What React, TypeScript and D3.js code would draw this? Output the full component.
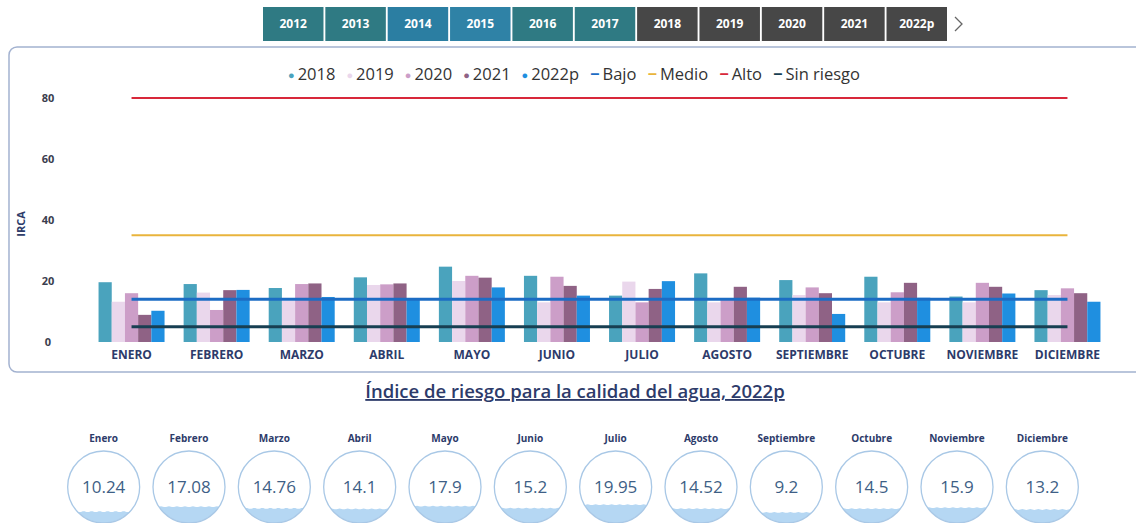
import React from 'react'
import * as d3 from 'd3'

const months = ['ENERO', 'FEBRERO', 'MARZO', 'ABRIL', 'MAYO', 'JUNIO', 'JULIO', 'AGOSTO', 'SEPTIEMBRE', 'OCTUBRE', 'NOVIEMBRE', 'DICIEMBRE']
const monthNames = ['Enero', 'Febrero', 'Marzo', 'Abril', 'Mayo', 'Junio', 'Julio', 'Agosto', 'Septiembre', 'Octubre', 'Noviembre', 'Diciembre']
const years = ['2018', '2019', '2020', '2021', '2022p']
const tabs = ['2012', '2013', '2014', '2015', '2016', '2017', '2018', '2019', '2020', '2021', '2022p']

const v2018 = [19.6, 19.0, 17.7, 21.2, 24.7, 21.7, 15.2, 22.5, 20.3, 21.4, 14.9, 17.0]
const v2019 = [13.2, 16.2, 13.5, 18.7, 20.0, 13.0, 19.8, 13.0, 15.4, 13.0, 13.0, 15.4]
const v2020 = [16.0, 10.5, 19.0, 18.9, 21.7, 21.4, 13.0, 14.3, 17.9, 16.3, 19.4, 17.6]
const v2021 = [8.9, 17.0, 19.2, 19.2, 21.1, 18.4, 17.4, 18.1, 16.0, 19.4, 18.1, 16.0]
const v2022 = [10.24, 17.08, 14.76, 14.1, 17.9, 15.2, 19.95, 14.52, 9.2, 14.5, 15.9, 13.2]

const bajo = [14, 14, 14, 14, 14, 14, 14, 14, 14, 14, 14, 14]
const medio = [35, 35, 35, 35, 35, 35, 35, 35, 35, 35, 35, 35]
const alto = [80, 80, 80, 80, 80, 80, 80, 80, 80, 80, 80, 80]
const sinRiesgo = [5, 5, 5, 5, 5, 5, 5, 5, 5, 5, 5, 5]

const yTicks = [0, 20, 40, 60, 80]

const barSeries = [v2018, v2019, v2020, v2021, v2022]
const barColors = ['#4aa3bd', '#ead7ec', '#cc9ec8', '#8f6285', '#1f8fe0']
const lineSeries = [
    { name: 'Bajo', values: bajo, color: '#1c6cc4' },
    { name: 'Medio', values: medio, color: '#e9b43c' },
    { name: 'Alto', values: alto, color: '#d8283a' },
    { name: 'Sin riesgo', values: sinRiesgo, color: '#173f52' },
]
const tabColors = ['#2f7a83', '#2f7a83', '#2b7ea2', '#2f82a6', '#2f7a83', '#2f7a83', '#474747', '#474747', '#474747', '#474747', '#474747']

const navy = '#2d3b6a'
const font = '"Open Sans", "Noto Sans", sans-serif'

export default function App() {
    const width = 1136
    const height = 523

    const x0 = d3.scaleBand().domain(months).range([89, 1110]).padding(0)
    const groupW = 66
    const x1 = d3.scaleBand().domain(years).range([0, groupW]).padding(0)
    const y = d3.scaleLinear().domain([0, 80]).range([342, 98])

    const line = d3.line<number>()
        .x((d, i) => (x0(months[i]) as number) + x0.bandwidth() / 2)
        .y(d => y(d))

    const tabX = d3.scaleBand().domain(tabs).range([263, 947]).paddingInner(0.03)

    const gx = d3.scaleBand().domain(monthNames).range([61, 1085]).padding(0)
    const r = 36
    const cy = 487

    return (
        <svg width={width} height={height} style={{ position: 'absolute', left: 0, top: 0, background: '#fff' }} fontFamily={font}>
            {/* year tabs */}
            {tabs.map((t, i) => (
                <g key={t}>
                    <rect x={tabX(t)} y={7} width={tabX.bandwidth()} height={34} fill={tabColors[i]} />
                    <text x={(tabX(t) as number) + tabX.bandwidth() / 2} y={28} textAnchor="middle" fill="#fff" fontSize={12} fontWeight={700}>{t}</text>
                </g>
            ))}
            <path d="M955,17 L962,24 L955,31" fill="none" stroke="#666" strokeWidth={1.3} />

            {/* chart frame */}
            <rect x={9} y={47} width={1140} height={325} rx={8} fill="none" stroke="#a3b2d0" strokeWidth={1.5} />

            {/* legend */}
            <text x={574} y={80} textAnchor="middle" fontSize={16.5} fill="#333">
                {years.map((yr, i) => (
                    <tspan key={yr}>
                        <tspan fill={barColors[i]} fontSize={11} dx={i === 0 ? 0 : 11} dy={-1}>●</tspan>
                        <tspan dx={3} dy={1}>{yr}</tspan>
                    </tspan>
                ))}
                {lineSeries.map((s, i) => (
                    <tspan key={s.name}>
                        <tspan fill={s.color} fontWeight={700} dx={11}>−</tspan>
                        <tspan dx={3}>{s.name}</tspan>
                    </tspan>
                ))}
            </text>

            {/* y axis */}
            {yTicks.map(t => (
                <text key={t} x={48} y={y(t) + 4} textAnchor="middle" fontSize={11} fontWeight={700} fill="#3a3d4e">{t}</text>
            ))}
            <text transform="translate(25,224) rotate(-90)" textAnchor="middle" fontSize={11} fontWeight={700} fill={navy}>IRCA</text>

            {/* bars */}
            {months.map((m, i) => (
                <g key={m} transform={`translate(${(x0(m) as number) + (x0.bandwidth() - groupW) / 2},0)`}>
                    {barSeries.map((s, j) => (
                        <rect key={j} x={x1(years[j])} y={y(s[i])} width={x1.bandwidth()} height={y(0) - y(s[i])} fill={barColors[j]} />
                    ))}
                </g>
            ))}

            {/* threshold lines */}
            {lineSeries.map(s => (
                <path key={s.name} d={line(s.values) as string} fill="none" stroke={s.color} strokeWidth={s.name === 'Bajo' || s.name === 'Sin riesgo' ? 3 : 2} />
            ))}

            {/* x labels */}
            {months.map(m => (
                <text key={m} x={(x0(m) as number) + x0.bandwidth() / 2} y={359} textAnchor="middle" fontSize={12} fontWeight={700} fill={navy}>{m}</text>
            ))}

            {/* title */}
            <text x={575} y={398} textAnchor="middle" fontSize={18.5} fontWeight={600} fill={navy} textDecoration="underline">Índice de riesgo para la calidad del agua, 2022p</text>

            {/* gauges */}
            <defs>
                {monthNames.map((m, i) => (
                    <clipPath key={m} id={`clip${i}`}>
                        <circle cx={(gx(m) as number) + gx.bandwidth() / 2} cy={cy} r={r} />
                    </clipPath>
                ))}
            </defs>
            {monthNames.map((m, i) => {
                const cx = (gx(m) as number) + gx.bandwidth() / 2
                const level = cy + r - (v2022[i] / 100) * 2 * r - 4
                const wave = d3.range(0, 2 * r + 1, 4).map((dx, k) => [cx - r + dx, level + (k % 2 ? 1.2 : -1.2)] as [number, number])
                const waveD = d3.line().curve(d3.curveBasis)(wave) + ` L${cx + r},${cy + r + 2} L${cx - r},${cy + r + 2} Z`
                return (
                    <g key={m}>
                        <text x={cx} y={442} textAnchor="middle" fontSize={10} fontWeight={700} fill={navy}>{m}</text>
                        <path d={waveD} fill="#b5d7f3" clipPath={`url(#clip${i})`} />
                        <circle cx={cx} cy={cy} r={r} fill="none" stroke="#a9c8e6" strokeWidth={1.3} />
                        <text x={cx} y={cy + 6} textAnchor="middle" fontSize={17} fill="#3e5f86">{v2022[i]}</text>
                    </g>
                )
            })}
        </svg>
    )
}
